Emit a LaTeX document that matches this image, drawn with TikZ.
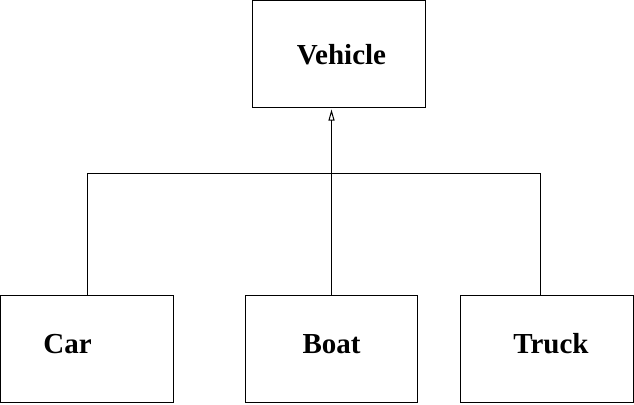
\documentclass[tikz,border=0pt]{standalone}
\usepackage{fontspec}
\setmainfont{Liberation Serif}
\usetikzlibrary{arrows.meta}
\begin{document}
\begin{tikzpicture}[x=1pt,y=-1pt,
  box/.style={draw=black,line width=1pt,inner sep=0pt,outer sep=0pt,minimum height=107pt},
  lbl/.style={anchor=base,inner sep=0pt,font=\fontsize{29}{32}\selectfont\bfseries},
  conn/.style={draw=black,line width=1pt}]
\useasboundingbox (0,0) rectangle (634,404);
\node[box,minimum width=173pt] (vbox) at (339,54) {};
\node[box,minimum width=173pt] (cbox) at (87,349) {};
\node[box,minimum width=172pt] (bbox) at (331.5,349) {};
\node[box,minimum width=173pt] (tbox) at (547,349) {};
\node[lbl] (vehicle) at (341.5,65) {Vehicle};
\node[lbl] (car) at (67.5,353) {Car};
\node[lbl] (boat) at (331.5,353) {Boat};
\node[lbl] (truck) at (551,353) {Truck};
\coordinate (tip) at (331.5,109.5);
\coordinate (cartop) at (87.5,295.5);
\coordinate (boattop) at (331.5,295.5);
\coordinate (trucktop) at (540.5,295.5);
\coordinate (jl) at (87.5,173.5);
\coordinate (jr) at (540.5,173.5);
\draw[conn,-{Triangle[open,length=11pt,width=6pt]}] (boattop) -- (tip);
\draw[conn] (cartop) -- (jl) -- (jr) -- (trucktop);
\end{tikzpicture}
\end{document}
